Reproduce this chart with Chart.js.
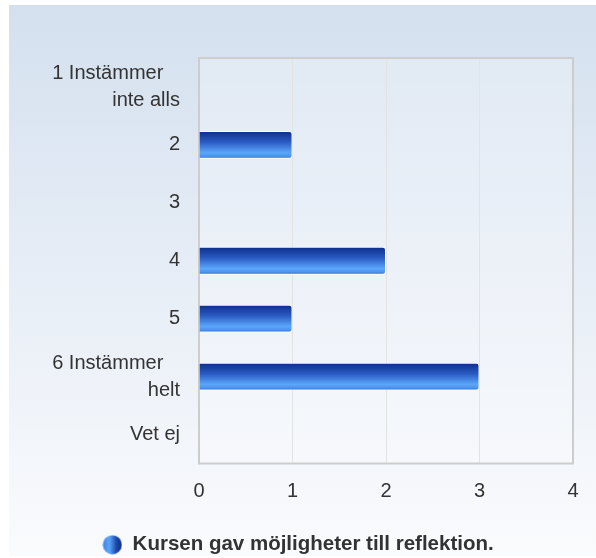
<!DOCTYPE html>
<html>
<head>
<meta charset="utf-8">
<script src="https://cdn.jsdelivr.net/npm/chart.js@4/dist/chart.umd.min.js"></script>
<style>
  html, body { margin: 0; padding: 0; background: #fff; }
  #wrap { width: 596px; height: 558px; }
</style>
</head>
<body>
<div id="wrap"><canvas id="c" width="596" height="558"></canvas></div>
<script>
// values
const categories = [['1 Instämmer   ', 'inte alls'], '2', '3', '4', '5', ['6 Instämmer   ', 'helt'], 'Vet ej'];
const answers = [0, 1, 0, 2, 1, 3, 0];
const seriesName = 'Kursen gav möjligheter till reflektion.';
const xTicks = [0, 1, 2, 3, 4];

const BAR_PCT = 0.48;

// little sphere for the legend
function makeSphere() {
    const s = document.createElement('canvas');
    s.width = 20; s.height = 20;
    const g = s.getContext('2d');
    const lg = g.createLinearGradient(0, 0, 20, 0);
    lg.addColorStop(0, '#3f7fe0');
    lg.addColorStop(0.35, '#5aa6fb');
    lg.addColorStop(0.7, '#1d47a8');
    lg.addColorStop(1, '#0c2c8a');
    g.fillStyle = lg;
    g.beginPath();
    g.arc(10, 10, 9.5, 0, Math.PI * 2);
    g.fill();
    return s;
}

function barFill(ctx) {
    const chart = ctx.chart;
    const y = chart.scales && chart.scales.y;
    const area = chart.chartArea;
    if (!y || !area || ctx.dataIndex === undefined) return '#2f63c8';
    const row = (area.bottom - area.top) / categories.length;
    const h = row * BAR_PCT;
    const cy = y.getPixelForValue(ctx.dataIndex);
    const g = chart.ctx.createLinearGradient(0, cy - h / 2, 0, cy + h / 2);
    g.addColorStop(0, '#0c2c8a');
    g.addColorStop(0.4, '#2a5bc2');
    g.addColorStop(0.78, '#5aa6fb');
    g.addColorStop(0.9, '#4e94ee');
    g.addColorStop(1, '#2d6ad6');
    return g;
}

const backdrop = {
    id: 'backdrop',
    beforeDraw(chart) {
        const c = chart.ctx;
        const a = chart.chartArea;
        c.save();
        const bg = c.createLinearGradient(0, 5, 0, 556);
        bg.addColorStop(0, '#d4e0ef');
        bg.addColorStop(1, '#fafbfd');
        c.fillStyle = bg;
        c.fillRect(9, 5, 587, 551);
        c.fillStyle = 'rgba(255,255,255,0.25)';
        c.fillRect(a.left, a.top, a.right - a.left, a.bottom - a.top);
        c.restore();
    },
    beforeDatasetsDraw(chart) {
        const c = chart.ctx;
        const a = chart.chartArea;
        c.save();
        c.strokeStyle = '#cdcdcd';
        c.lineWidth = 2;
        c.strokeRect(a.left, a.top, a.right - a.left, a.bottom - a.top);
        c.restore();
    }
};

new Chart(document.getElementById('c'), {
    type: 'bar',
    data: {
        labels: categories,
        datasets: [{
            label: seriesName,
            data: answers,
            backgroundColor: barFill,
            borderColor: 'rgba(255,255,255,0.9)',
            borderWidth: 1,
            borderSkipped: 'start',
            borderRadius: 3,
            barPercentage: BAR_PCT,
            categoryPercentage: 1
        }]
    },
    options: {
        indexAxis: 'y',
        responsive: false,
        animation: false,
        layout: { padding: { top: 58, right: 23, bottom: -7, left: 23 } },
        scales: {
            x: {
                min: xTicks[0],
                max: xTicks[xTicks.length - 1],
                afterBuildTicks(scale) { scale.ticks = xTicks.map(v => ({ value: v })); },
                afterFit(scale) { scale.height = 68; },
                grid: { color: '#e3e3e3', drawTicks: false },
                border: { display: false },
                ticks: { padding: 16, color: '#333', font: { family: 'Liberation Sans', size: 20 } }
            },
            y: {
                afterFit(scale) { scale.width = 176; },
                grid: { display: false, drawTicks: false },
                border: { display: false },
                ticks: { padding: 19, color: '#333', font: { family: 'Liberation Sans', size: 20, lineHeight: 1.35 } }
            }
        },
        plugins: {
            tooltip: { enabled: false },
            legend: {
                position: 'bottom',
                labels: {
                    usePointStyle: true,
                    pointStyle: makeSphere(),
                    pointStyleWidth: 20,
                    padding: 3,
                    color: '#333',
                    font: { family: 'Liberation Sans', size: 20.5, weight: 'bold' }
                }
            }
        }
    },
    plugins: [backdrop]
});
</script>
</body>
</html>
